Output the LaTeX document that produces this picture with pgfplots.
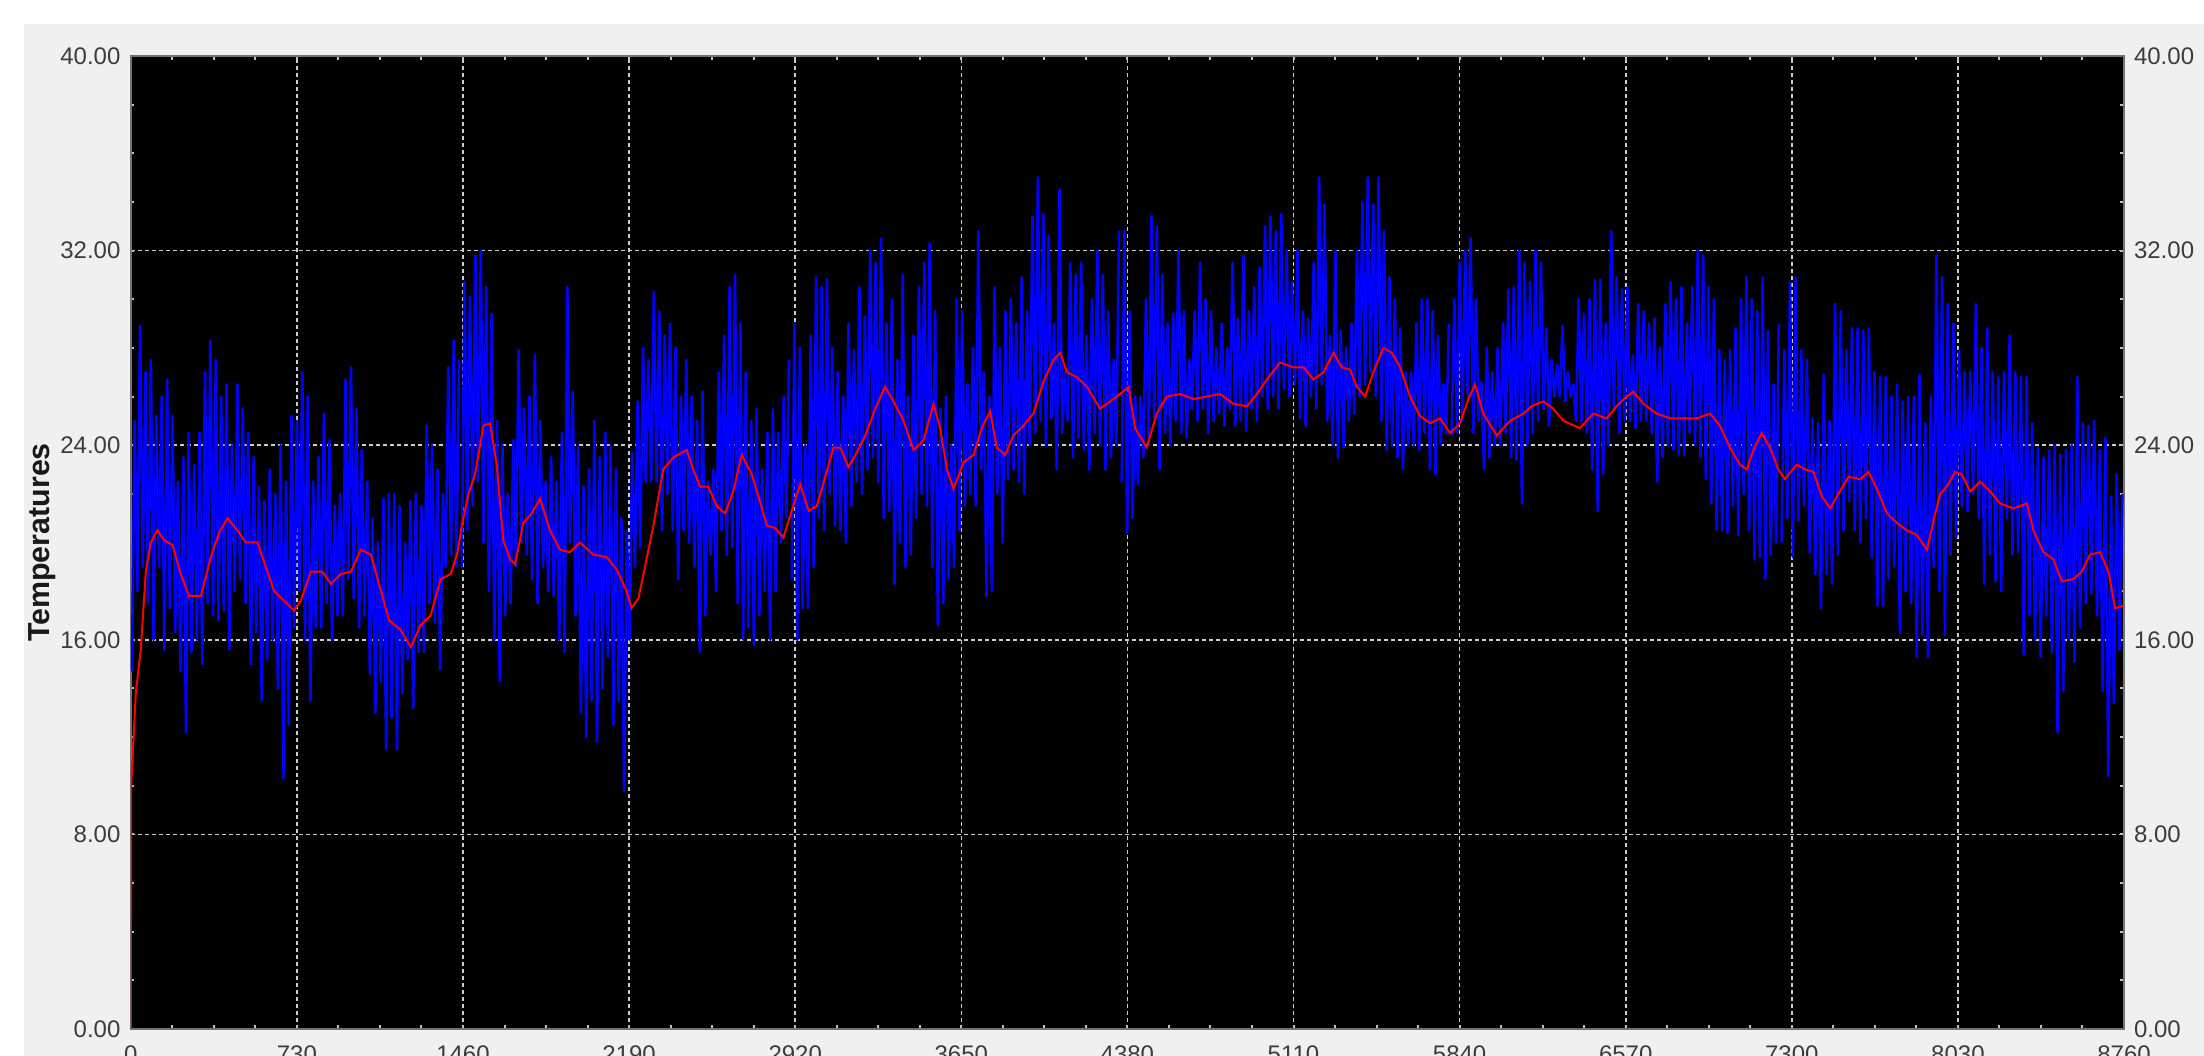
\documentclass[border=0pt]{standalone}
\usepackage{pgfplots}
\pgfplotsset{compat=1.18}
\usepackage{fontspec}
\setmainfont{Liberation Sans}
\definecolor{bgray}{RGB}{240,240,240}
\definecolor{lblgray}{RGB}{60,60,60}
\definecolor{gridc}{RGB}{205,205,205}
\begin{document}
\begin{tikzpicture}
\fill[white] (-32.7pt,-6.75pt) rectangle (518.3pt,257.25pt);
\fill[bgray] (-26.7pt,-6.75pt) rectangle (518.3pt,251.25pt);
\begin{axis}[
  at={(0,0)}, anchor=south west,
  scale only axis, width=498.3pt, height=243.25pt,
  xmin=0, xmax=8760, ymin=0, ymax=40,
  axis background/.style={fill=black},
  axis line style={draw=black!55, line width=0.5pt},
  xtick={0,730,1460,2190,2920,3650,4380,5110,5840,6570,7300,8030,8760},
  xticklabels={0,730,1460,2190,2920,3650,4380,5110,5840,6570,7300,8030,8760},
  ytick={0,8,16,24,32,40},
  minor x tick num=3, minor y tick num=3,
  tick align=inside,
  tick style={draw=black!25, line width=0.5pt},
  major tick length=0.9pt, minor tick length=0.9pt,
  xmajorgrids, ymajorgrids,
  major grid style={draw=gridc, dash pattern=on 1pt off 0.75pt, line width=0.4pt},
  yticklabel pos=left,
  /pgf/number format/assume math mode=true,
  yticklabel style={/pgf/number format/fixed, /pgf/number format/fixed zerofill, /pgf/number format/precision=2,
    font=\fontsize{6}{7}\selectfont, text=lblgray, inner sep=0pt, anchor=east, xshift=-2.4pt},
  xticklabel style={font=\fontsize{6}{7}\selectfont, text=lblgray, inner sep=0pt, anchor=north, yshift=-4pt},
  ylabel={Temperatures},
  ylabel style={font=\bfseries\fontsize{7.6}{9}\selectfont, text=black!90, at={(axis description cs:-0.05157,0.5)}, anchor=north, inner sep=0pt},
]
\addplot[blue, line width=0.65pt, line join=round] table[row sep=\\, x expr=\coordindex*11.885+5, y index=0] {t\\
14.7\\25.0\\18.0\\28.9\\19.0\\27.0\\17.5\\27.5\\16.0\\25.2\\19.0\\26.0\\
15.6\\26.7\\17.3\\25.2\\16.3\\22.5\\14.7\\23.5\\12.2\\24.5\\15.5\\23.2\\
16.0\\24.5\\15.0\\27.0\\17.5\\28.3\\17.0\\27.5\\16.8\\26.0\\17.2\\26.5\\
15.6\\24.0\\18.0\\26.5\\18.5\\25.5\\17.5\\24.5\\15.0\\23.5\\16.3\\22.3\\
13.5\\21.7\\15.2\\23.0\\16.0\\22.0\\14.0\\24.0\\10.3\\22.5\\12.5\\25.2\\
16.5\\25.0\\18.0\\27.0\\16.0\\26.0\\13.5\\22.5\\16.5\\23.5\\16.5\\25.3\\
17.5\\24.2\\16.0\\21.5\\17.0\\22.0\\17.0\\26.7\\18.5\\27.2\\17.7\\25.5\\
16.5\\23.8\\17.0\\22.5\\14.6\\21.0\\13.0\\20.0\\14.3\\21.8\\11.5\\22.0\\
12.8\\22.0\\11.5\\21.5\\13.8\\20.0\\15.2\\21.7\\13.2\\22.0\\15.5\\21.5\\
15.5\\24.8\\17.5\\24.0\\16.7\\23.0\\14.8\\22.0\\19.0\\27.2\\19.5\\28.3\\19.0\\27.5\\
};
\addplot[blue, line width=0.65pt, line join=round] table[row sep=\\, x expr=\coordindex*11.885+1455, y index=0] {t\\
19.0\\30.7\\20.5\\30.1\\21.5\\31.8\\22.5\\32.0\\20.0\\30.5\\18.0\\29.4\\
16.0\\25.0\\14.3\\24.0\\17.0\\22.0\\17.5\\24.2\\19.0\\27.9\\20.0\\25.5\\
19.5\\26.0\\18.5\\27.7\\17.5\\25.0\\19.0\\22.5\\18.0\\23.5\\17.8\\22.5\\
16.0\\24.5\\15.5\\30.5\\20.0\\26.2\\17.0\\24.0\\13.0\\22.3\\12.0\\23.0\\
13.5\\25.0\\11.8\\23.5\\14.0\\24.5\\15.3\\24.0\\12.5\\23.0\\13.5\\21.0\\
9.8\\20.5\\16.0\\23.7\\19.0\\25.8\\19.8\\28.0\\22.5\\27.5\\22.5\\30.3\\
22.5\\29.5\\20.5\\28.5\\22.0\\29.0\\20.5\\28.0\\18.5\\26.0\\20.5\\27.5\\
20.0\\26.0\\19.0\\25.0\\15.5\\26.2\\17.0\\22.5\\19.5\\23.0\\18.0\\27.0\\
20.5\\28.5\\19.5\\30.5\\19.8\\31.0\\17.5\\29.0\\16.0\\27.0\\16.5\\25.0\\
15.8\\25.5\\17.0\\23.0\\18.0\\24.5\\16.0\\25.5\\18.0\\24.5\\20.0\\26.0\\21.0\\27.5\\
};
\addplot[blue, line width=0.65pt, line join=round] table[row sep=\\, x expr=\coordindex*11.885+2905, y index=0] {t\\
18.5\\29.0\\16.0\\28.0\\17.3\\24.0\\17.3\\28.5\\19.0\\30.9\\21.0\\30.5\\
20.5\\30.8\\22.0\\28.0\\20.7\\27.0\\20.5\\26.0\\20.0\\29.0\\21.5\\27.9\\
22.5\\30.5\\22.0\\29.3\\23.0\\32.0\\23.5\\31.5\\22.5\\32.5\\21.0\\29.0\\
21.3\\30.0\\18.3\\27.5\\20.0\\31.0\\19.0\\26.0\\19.5\\28.5\\21.0\\30.5\\
22.0\\31.5\\21.5\\32.3\\19.0\\29.5\\16.6\\25.5\\17.5\\26.0\\18.5\\24.0\\
19.0\\30.0\\20.5\\29.5\\21.5\\26.5\\22.0\\28.0\\21.5\\32.8\\23.0\\27.0\\
17.8\\26.0\\18.0\\30.5\\22.0\\28.0\\20.0\\29.5\\22.6\\30.0\\23.0\\29.0\\
22.5\\30.9\\22.0\\29.5\\24.0\\33.4\\24.5\\35.0\\25.0\\33.5\\24.0\\32.6\\
25.1\\29.0\\23.0\\34.5\\24.5\\27.0\\25.0\\31.5\\23.5\\31.0\\24.3\\31.5\\
23.8\\28.5\\23.0\\30.0\\24.5\\32.0\\24.0\\31.0\\23.0\\29.5\\23.5\\27.5\\24.0\\32.8\\
};
\addplot[blue, line width=0.65pt, line join=round] table[row sep=\\, x expr=\coordindex*11.885+4355, y index=0] {t\\
22.5\\32.8\\20.4\\29.5\\21.0\\26.0\\22.4\\26.0\\23.5\\30.0\\24.0\\33.4\\
25.1\\33.0\\23.0\\31.0\\24.5\\29.0\\24.0\\29.4\\25.0\\32.0\\24.5\\29.5\\
24.3\\27.5\\25.5\\29.5\\25.0\\31.5\\25.5\\30.0\\24.5\\29.5\\25.0\\28.0\\
25.3\\29.0\\24.8\\28.0\\25.5\\31.5\\24.8\\29.2\\25.0\\31.8\\24.6\\29.5\\
25.5\\30.5\\25.0\\31.3\\26.0\\33.0\\25.5\\33.4\\26.0\\32.8\\25.5\\33.5\\
26.3\\32.0\\26.0\\30.7\\26.5\\32.0\\25.1\\29.5\\24.8\\29.2\\26.0\\31.5\\
25.5\\35.0\\26.5\\33.9\\25.0\\28.5\\24.0\\32.0\\23.5\\28.7\\23.9\\28.0\\
25.0\\29.0\\25.3\\32.0\\26.0\\34.0\\26.5\\35.0\\27.0\\33.9\\26.0\\35.0\\
25.0\\32.8\\23.8\\30.9\\24.0\\30.0\\23.5\\28.8\\23.0\\27.0\\24.0\\27.0\\
24.0\\29.0\\23.8\\30.0\\24.5\\30.0\\23.0\\29.5\\22.8\\28.5\\24.0\\26.5\\24.5\\29.0\\
};
\addplot[blue, line width=0.65pt, line join=round] table[row sep=\\, x expr=\coordindex*11.885+5805, y index=0] {t\\
24.4\\30.0\\24.5\\31.5\\25.0\\32.0\\26.0\\32.5\\24.5\\30.0\\25.0\\26.6\\
23.0\\28.0\\23.5\\27.0\\24.0\\28.0\\24.0\\29.0\\24.5\\30.4\\23.5\\30.5\\
23.4\\32.0\\21.6\\31.5\\24.0\\30.7\\24.5\\32.0\\25.0\\31.5\\25.5\\28.8\\
24.8\\27.5\\26.0\\27.3\\26.0\\28.9\\25.8\\27.0\\26.0\\26.5\\25.0\\30.0\\
25.0\\29.4\\24.5\\30.0\\23.0\\30.8\\21.3\\30.8\\22.8\\29.0\\24.0\\32.8\\
25.5\\30.9\\24.5\\30.4\\25.0\\30.5\\25.0\\27.7\\24.7\\29.8\\25.0\\29.5\\
25.0\\29.0\\24.5\\29.2\\22.5\\28.0\\23.5\\29.8\\24.0\\30.7\\23.8\\30.0\\
23.6\\30.5\\23.6\\29.0\\24.5\\30.5\\24.0\\32.0\\23.5\\31.8\\22.6\\30.5\\
21.6\\30.0\\20.5\\27.9\\20.5\\27.5\\20.4\\27.9\\21.5\\28.8\\20.3\\30.0\\
22.0\\30.9\\20.5\\30.0\\19.3\\29.5\\19.4\\30.9\\18.5\\28.7\\19.5\\26.5\\20.0\\29.0\\
};
\addplot[blue, line width=0.65pt, line join=round] table[row sep=\\, x expr=\coordindex*12.377+7255, y index=0] {t\\
20.0\\27.9\\21.0\\30.7\\19.4\\30.9\\20.9\\27.9\\21.5\\27.5\\19.6\\25.1\\
18.7\\24.9\\17.3\\26.9\\18.7\\25.0\\18.3\\29.8\\19.5\\29.5\\20.5\\27.9\\
21.7\\28.8\\20.5\\28.8\\20.0\\28.7\\21.0\\28.8\\19.4\\27.0\\17.4\\26.8\\
17.4\\26.8\\18.5\\26.0\\19.0\\26.5\\16.3\\25.8\\18.0\\26.0\\17.5\\26.0\\
15.3\\26.9\\16.2\\24.9\\15.3\\26.0\\19.0\\31.8\\18.0\\30.9\\16.2\\29.8\\
19.5\\29.0\\20.2\\27.9\\21.5\\27.0\\21.3\\27.0\\22.0\\29.8\\21.0\\28.0\\
18.3\\28.8\\19.5\\27.0\\18.4\\26.8\\18.0\\27.0\\21.0\\28.5\\19.5\\27.0\\
19.6\\26.8\\15.4\\26.8\\17.0\\24.9\\16.0\\23.9\\15.3\\23.5\\17.0\\23.8\\
15.5\\24.0\\12.2\\23.6\\13.9\\23.8\\16.0\\24.0\\15.1\\26.8\\16.5\\24.9\\
17.5\\24.8\\17.9\\25.0\\17.0\\23.8\\13.9\\24.3\\10.4\\21.9\\13.4\\22.8\\15.6\\22.0\\
};
\addplot[red, line width=0.5pt] coordinates {
(0,0)(2,10)(22,13.8)(44,15.6)(66,18.8)(88,20.0)(117,20.5)(146,20.1)(183,19.9)(220,18.7)(256,17.8)(308,17.8)(352,19.4)(388,20.4)(425,21.0)(469,20.5)(505,20.0)(557,20.0)(586,19.2)(630,18.0)(674,17.6)(718,17.2)(747,17.6)(791,18.8)(842,18.8)(879,18.3)(923,18.7)(967,18.8)(1011,19.7)(1055,19.5)(1091,18.3)(1135,16.8)(1187,16.4)(1231,15.7)(1274,16.6)(1318,17.0)(1362,18.5)(1406,18.7)(1436,19.6)
(1455,20.7)(1484,22.0)(1513,22.8)(1550,24.8)(1579,24.9)(1608,23.2)(1637,20.1)(1667,19.3)(1689,19.1)(1725,20.8)(1762,21.2)(1799,21.8)(1842,20.5)(1886,19.7)(1930,19.6)(1974,20.0)(2033,19.5)(2091,19.4)(2135,18.9)(2179,18.0)(2201,17.3)(2231,17.7)(2260,19.0)(2297,20.7)(2340,23.0)(2385,23.5)(2443,23.8)(2472,23.0)(2502,22.3)(2538,22.3)(2575,21.5)(2612,21.2)(2648,22.1)(2685,23.6)(2729,22.8)(2765,21.7)(2795,20.7)(2831,20.6)(2868,20.2)
(2898,21.1)(2942,22.4)(2979,21.3)(3015,21.5)(3052,22.7)(3088,23.9)(3118,23.9)(3154,23.1)(3191,23.7)(3228,24.4)(3272,25.5)(3315,26.4)(3352,25.8)(3396,25.0)(3440,23.8)(3484,24.2)(3528,25.7)(3557,24.7)(3587,23.0)(3616,22.2)(3660,23.3)(3704,23.6)(3740,24.7)(3777,25.4)(3806,23.9)(3843,23.6)(3879,24.4)(3923,24.8)(3967,25.3)(4011,26.6)(4055,27.5)(4085,27.8)(4114,27.0)(4158,26.8)(4202,26.4)(4260,25.5)(4304,25.8)
(4348,26.1)(4385,26.4)(4414,24.7)(4465,23.9)(4509,25.3)(4553,26.0)(4612,26.1)(4670,25.9)(4729,26.0)(4787,26.1)(4846,25.7)(4905,25.6)(4949,26.1)(4993,26.7)(5051,27.4)(5110,27.2)(5154,27.2)(5198,26.7)(5242,27.0)(5286,27.8)(5322,27.2)(5359,27.1)(5388,26.4)(5425,26.0)(5461,27.0)(5505,28.0)(5542,27.8)(5579,27.2)(5622,26.0)(5666,25.2)(5710,24.9)(5754,25.1)
(5798,24.5)(5842,24.9)(5879,25.9)(5908,26.5)(5944,25.3)(6003,24.4)(6062,25.0)(6120,25.3)(6157,25.6)(6208,25.8)(6252,25.5)(6296,25.0)(6369,24.7)(6428,25.3)(6486,25.1)(6530,25.6)(6574,26.0)(6604,26.2)(6648,25.7)(6706,25.3)(6765,25.1)(6823,25.1)(6882,25.1)(6941,25.3)(6984,24.8)(7028,23.9)(7072,23.2)(7102,23.0)(7131,23.8)(7168,24.5)(7204,23.9)(7241,23.0)
(7270,22.6)(7286,22.8)(7322,23.2)(7359,23.0)(7395,22.9)(7432,21.9)(7469,21.4)(7505,22.0)(7549,22.7)(7601,22.6)(7637,22.9)(7674,22.2)(7718,21.2)(7762,20.8)(7806,20.5)(7850,20.3)(7894,19.7)(7923,20.9)(7952,22.0)(7981,22.3)(8018,22.9)(8047,22.8)(8084,22.1)(8128,22.5)(8172,22.1)(8216,21.6)(8274,21.4)(8333,21.6)(8362,20.5)(8406,19.6)(8450,19.3)(8487,18.4)(8538,18.5)(8574,18.8)(8611,19.5)(8655,19.6)(8692,18.8)(8721,17.3)(8758,17.4)
};
\end{axis}
\begin{axis}[
  at={(0,0)}, anchor=south west,
  scale only axis, width=498.3pt, height=243.25pt,
  xmin=0, xmax=8760, ymin=0, ymax=40,
  axis x line=none, axis y line*=right,
  axis line style={draw=none},
  ytick={0,8,16,24,32,40},
  ytick style={draw=none},
  /pgf/number format/assume math mode=true,
  yticklabel style={/pgf/number format/fixed, /pgf/number format/fixed zerofill, /pgf/number format/precision=2,
    font=\fontsize{6}{7}\selectfont, text=lblgray, inner sep=0pt, anchor=west, xshift=2.3pt},
]
\end{axis}
\pgfresetboundingbox
\useasboundingbox (-32.7pt,-6.75pt) rectangle (518.3pt,257.25pt);
\end{tikzpicture}
\end{document}
